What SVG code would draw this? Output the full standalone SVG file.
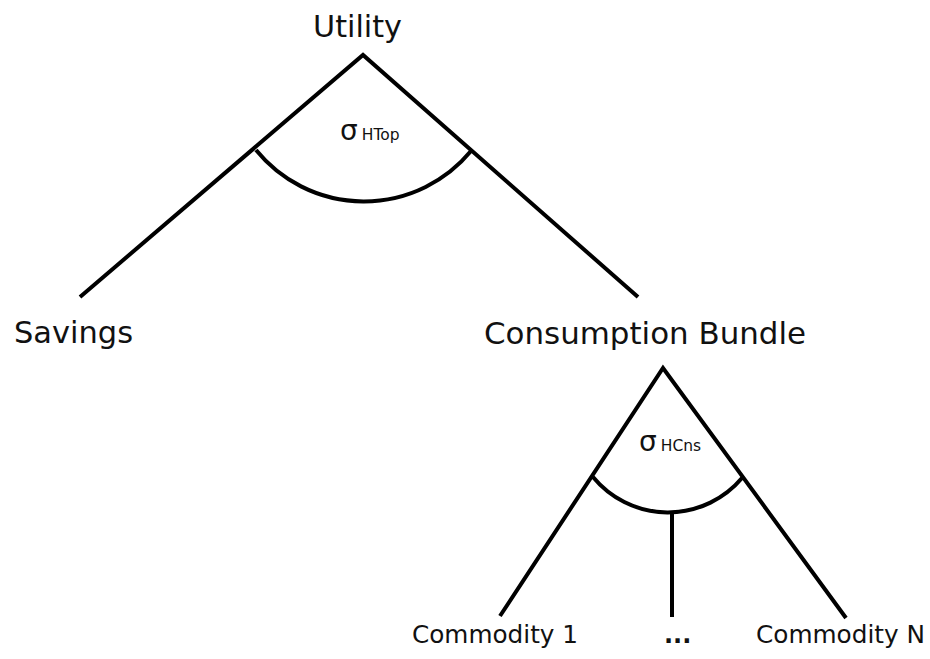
<svg xmlns="http://www.w3.org/2000/svg" width="930" height="659" viewBox="0 0 930 659">
  <style>
    .edge { stroke: #000; stroke-width: 4; fill: none; stroke-linecap: butt; }
    .lbl { font-family: "DejaVu Sans", "Liberation Sans", sans-serif; fill: #111; }
    .big { font-size: 30px; }
    .mid { font-size: 24px; }
    .sig { font-size: 28px; }
    .sub { font-size: 15.5px; }
  </style>
  <rect width="930" height="659" fill="#fff"/>

  <!-- connectors and elasticity arcs -->
  <g id="connectors">
    <path class="edge" d="M80,297 L363,55 L638,297"/>
    <path class="edge" d="M256,150 A139,139 0 0 0 471,151"/>
    <path class="edge" d="M500,616 L663,368 L846,618"/>
    <path class="edge" d="M593,477 A97,97 0 0 0 742,478"/>
    <path class="edge" d="M672,512 L672,617"/>
  </g>

  <g id="utility">
    <text class="lbl big" x="313" y="37" textLength="89" lengthAdjust="spacingAndGlyphs">Utility</text>
  </g>
  <g id="sigma-top">
    <text class="lbl sig" x="340" y="140">σ<tspan class="sub" dx="4">HTop</tspan></text>
  </g>
  <g id="savings">
    <text class="lbl big" x="14" y="343" textLength="119" lengthAdjust="spacingAndGlyphs">Savings</text>
  </g>
  <g id="consumption-bundle">
    <text class="lbl big" x="484" y="344" textLength="322" lengthAdjust="spacingAndGlyphs">Consumption Bundle</text>
  </g>
  <g id="sigma-cns">
    <text class="lbl sig" x="639" y="451">σ<tspan class="sub" dx="4">HCns</tspan></text>
  </g>
  <g id="commodity-1">
    <text class="lbl mid" x="412" y="643" textLength="166" lengthAdjust="spacingAndGlyphs">Commodity 1</text>
  </g>
  <g id="ellipsis">
    <text class="lbl mid" x="664" y="643" font-weight="bold">...</text>
  </g>
  <g id="commodity-n">
    <text class="lbl mid" x="756" y="643" textLength="169" lengthAdjust="spacingAndGlyphs">Commodity N</text>
  </g>
</svg>
